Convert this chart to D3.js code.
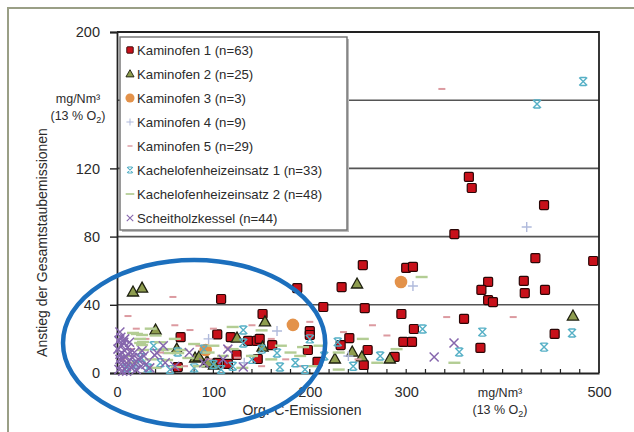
<!DOCTYPE html>
<html>
<head>
<meta charset="utf-8">
<script src="https://cdn.jsdelivr.net/npm/d3@7"></script>
<style>
  body { margin: 0; background: #fff; }
  svg { display: block; font-family: "Liberation Sans", Arial, sans-serif; }
</style>
</head>
<body>
<svg width="634" height="432"></svg>
<script>
// values: [Org.-C, Anstieg Gesamtstaub] in mg/Nm³
const kaminofen1 = [
  [365,115],[368,108.5],[443,98.5],[350,81.5],[434,67.4],[494,65.7],[255,63.3],[300,61.6],[307,62.2],
  [233,50.4],[422,54],[385,53.4],[378,48.7],[423,46.9],[444,48.7],[385,42.8],[390,41.6],[214,38.7],
  [257,38],[295,34.6],[360,31.7],[308,25.8],[297,18.2],[306,18.2],[241,20.5],[260,13.5],[232,16.4],
  [256,4.7],[288,9.4],[454,22.9],[377,14.7],[108,43.4],[187,49.8],[151,34.6],[66,21],[104,22.6],
  [118,21],[136,18.8],[145,18.8],[148,20],[161,16.4],[200,24.6],[200,22.3],[198,13.5],[104,5.9],
  [124,10.6],[115,5.3],[146,8.2],[208,6.5],[63,3.5]
];
const kaminofen2 = [
  [16.6,47.5],[26,49.8],[40,25.2],[153.5,30],[124.5,20.5],[151,15.2],[81,8.8],[85,9.4],[93,6.5],
  [100.6,4.7],[94.4,5.9],[62,14],[249,52.2],[473,33.4],[226,8.2],[244,12.3],[254,9.4],[283,8.2]
];
const kaminofen3 = [[182.5,28.2],[92,13.5],[294.6,53.4]];
const kaminofen4 = [[425,85.6],[307,51],[166,24.6],[132,6],[5,10],[20,4],[48,14],[95,20],[240,10]];
const kaminofen5 = [
  [337,166.6],[342,32.8],[411,32.8],[58,44.6],[11.4,33.4],[75.7,25.2],[30,20],[45,12],[60,28],
  [85,16],[100,26],[115,15],[125,9],[140,28],[160,20],[175,8],[200,30],[215,12],[235,24],[250,8],
  [265,28],[5,8],[15,14],[20,26],[70,4],[95,8],[150,4],[190,4],[280,22]
];
const kachel1 = [
  [483.6,171],[435.7,157.8],[317,25.8],[379,24],[355,12.3],[443,15.2],[472,23.5],[273,10],[229,18.2],
  [131,25.2],[166,11.7],[169,3.5],[131,17.6],[63,12.3],[32,2.9],[20,5],[25,9],[45,6],[55,2],[80,3],
  [100,5],[108,2],[140,8],[185,6],[200,20],[215,10],[245,4],[150,14],[90,14],[10,3],[38,16],[120,4],[195,2]
];
const kachel2 = [
  [316,56.3],[26,22.3],[27,18.2],[52,14],[67,13.5],[74,8.8],[52,7.6],[193,15.2],[190,10],[20.7,22.9],
  [24,20],[26,16.4],[27,13.5],[48,13.5],[55,11.7],[63.5,11.7],[62,3.5],[16.6,23.5],[24,17.6],[35,26],
  [40,22],[45,18],[60,20],[80,17],[95,12],[110,10],[120,14],[140,10],[160,8],[180,12],[210,16],
  [230,12],[255,20],[270,6],[290,14],[350,6],[230,2],[12,10],[15,6],[35,8],[85,4],[130,3],[170,16],
  [205,4],[40,3],[100,16],[150,25],[120,27]
];
const scheitholz = [
  [349.6,17.6],[329,9.4],[3,24],[39,10.6],[131,3.5],[41.5,11.7],[2,2],[4,5],[6,8],[3,11],[8,13],
  [5,16],[2,19],[10,4],[12,7],[9,10],[14,12],[11,15],[6,1],[15,3],[18,6],[20,2],[7,18],[1,14],
  [13,18],[16,9],[22,8],[25,4],[4,21],[8,20],[18,12],[28,10],[30,5],[3,8],[10,1],[26,13],[34,3],
  [50,6],[60,4],[75,12],[90,6],[110,8],[115,14],[48,16]
];

const seriesNames = [
  'Kaminofen 1 (n=63)', 'Kaminofen 2 (n=25)', 'Kaminofen 3 (n=3)', 'Kaminofen 4 (n=9)',
  'Kaminofen 5 (n=29)', 'Kachelofenheizeinsatz 1 (n=33)', 'Kachelofenheizeinsatz 2 (n=48)',
  'Scheitholzkessel (n=44)'
];
const seriesData = [kaminofen1, kaminofen2, kaminofen3, kaminofen4, kaminofen5, kachel1, kachel2, scheitholz];

const xTickValues = [0, 100, 200, 300, 500];
const yTickValues = [0, 40, 80, 120, 200];
const gridValues = [40, 80, 120, 160];
// circled region, in data units: centre x, centre y, radius x, radius y
const highlight = [80, 17.6, 136, 48.7];

const svg = d3.select('svg');
const x = d3.scaleLinear().domain([0, 500]).range([117, 599]);
const y = d3.scaleLinear().domain([0, 200]).range([373, 32]);
const textColor = '#2b2b2b';

// outer frame of the figure
svg.append('rect')
  .attr('x', 8).attr('y', 8).attr('width', 660).attr('height', 460)
  .attr('fill', 'none').attr('stroke', '#9a9f86').attr('stroke-width', 2);

// marker drawers
const markers = [
  g => g.append('rect').attr('x', -4.5).attr('y', -4.5).attr('width', 9).attr('height', 9).attr('rx', 1.2)
        .attr('fill', '#c8101a').attr('stroke', '#2a0606').attr('stroke-width', 1.2),
  g => g.append('path').attr('d', 'M0,-6L5.6,4L-5.6,4Z')
        .attr('fill', '#8e9d4f').attr('stroke', '#1e2010').attr('stroke-width', 1.3),
  g => g.append('circle').attr('r', 6.3).attr('fill', '#e3924a'),
  g => g.append('path').attr('d', 'M-5,0H5M0,-5V5')
        .attr('stroke', '#b0badc').attr('stroke-width', 1.4).attr('fill', 'none'),
  g => g.append('path').attr('d', 'M-3.5,0H3.5')
        .attr('stroke', '#dc9aa0').attr('stroke-width', 2).attr('fill', 'none'),
  g => g.append('path').attr('d', 'M-4,-4L4,4M-4,4L4,-4M-3,-4H3M-3,4H3')
        .attr('stroke', '#56b0c6').attr('stroke-width', 1.4).attr('fill', 'none'),
  g => g.append('path').attr('d', 'M-6,0H6')
        .attr('stroke', '#b3cd94').attr('stroke-width', 2.4).attr('fill', 'none'),
  g => g.append('path').attr('d', 'M-4.5,-4.5L4.5,4.5M-4.5,4.5L4.5,-4.5')
        .attr('stroke', '#8666ad').attr('stroke-width', 1.5).attr('fill', 'none')
];

// gridlines
svg.append('g').selectAll('line').data(gridValues).join('line')
  .attr('x1', x(0)).attr('x2', x(500))
  .attr('y1', d => y(d)).attr('y2', d => y(d))
  .attr('stroke', '#555').attr('stroke-width', 1.6);

// plot border (top, right)
svg.append('path')
  .attr('d', `M${x(0)},${y(200)}H${x(500)}V${y(0)}`)
  .attr('fill', 'none').attr('stroke', '#222').attr('stroke-width', 1.8);

// y axis
const yAxis = d3.axisLeft(y).tickValues(yTickValues).tickSize(7).tickPadding(10);
const yAxisG = svg.append('g').attr('transform', `translate(${x(0)},0)`).call(yAxis);
yAxisG.select('.domain').attr('stroke', '#222').attr('stroke-width', 1.8);
yAxisG.selectAll('.tick line').attr('stroke', '#222').attr('stroke-width', 1.4);
yAxisG.selectAll('.tick text').attr('font-size', 14.5).attr('fill', textColor)
  .attr('font-family', '"Liberation Sans", Arial, sans-serif');

// x axis: labels, then minor inward ticks every 20
const xAxis = d3.axisBottom(x).tickValues(xTickValues).tickSize(0).tickPadding(14);
const xAxisG = svg.append('g').attr('transform', `translate(0,${y(0)})`).call(xAxis);
xAxisG.select('.domain').attr('stroke', '#222').attr('stroke-width', 1.8);
xAxisG.selectAll('.tick text').attr('font-size', 14.5).attr('fill', textColor)
  .attr('font-family', '"Liberation Sans", Arial, sans-serif');
svg.append('g').selectAll('line').data(d3.range(20, 500, 20)).join('line')
  .attr('x1', d => x(d)).attr('x2', d => x(d))
  .attr('y1', y(0)).attr('y2', y(0) - 4)
  .attr('stroke', '#222').attr('stroke-width', 1.2);

// unit labels
const yUnit = svg.append('text').attr('x', 78).attr('y', 103).attr('text-anchor', 'middle')
  .attr('font-size', 12.5).attr('fill', textColor);
yUnit.append('tspan').text('mg/Nm³');
yUnit.append('tspan').attr('x', 78).attr('dy', 17).text('(13 % O');
yUnit.append('tspan').attr('font-size', 9).attr('dy', 3).text('2');
yUnit.append('tspan').attr('dy', -3).text(')');

const xUnit = svg.append('text').attr('x', 500).attr('y', 397).attr('text-anchor', 'middle')
  .attr('font-size', 12.5).attr('fill', textColor);
xUnit.append('tspan').text('mg/Nm³');
xUnit.append('tspan').attr('x', 500).attr('dy', 17).text('(13 % O');
xUnit.append('tspan').attr('font-size', 9).attr('dy', 3).text('2');
xUnit.append('tspan').attr('dy', -3).text(')');

// axis titles
svg.append('text')
  .attr('transform', `translate(47,${(y(0) + y(200)) / 2 + 40}) rotate(-90)`)
  .attr('text-anchor', 'middle').attr('font-size', 14).attr('fill', textColor)
  .text('Anstieg der Gesamtstaubemissionen');
svg.append('text')
  .attr('x', 302).attr('y', 415).attr('text-anchor', 'middle')
  .attr('font-size', 14).attr('fill', textColor)
  .text('Org.-C-Emissionen');

// data points, series in order so the last one lies on top
seriesData.forEach((data, i) => {
  svg.append('g').attr('class', 'series-' + i)
    .selectAll('g').data(data).join('g')
      .attr('transform', d => `translate(${x(d[0])},${y(d[1])})`)
      .each(function() { markers[i](d3.select(this)); });
});

// legend
const legend = svg.append('g');
legend.append('rect').attr('x', 122).attr('y', 39).attr('width', 227).attr('height', 193)
  .attr('fill', '#bbb');
legend.append('rect').attr('x', 120).attr('y', 37).attr('width', 227).attr('height', 193)
  .attr('fill', '#fff').attr('stroke', '#6f6f6f').attr('stroke-width', 1.4);
const legendItem = legend.selectAll('.legend').data(seriesNames).join('g')
  .attr('class', 'legend')
  .attr('transform', (d, i) => `translate(130,${50 + i * 24})`);
legendItem.append('g').attr('transform', 'scale(0.72)')
  .each(function(d, i) { markers[i](d3.select(this)); });
legendItem.append('text').attr('x', 7).attr('dy', '0.35em')
  .attr('font-size', 13.2).attr('fill', textColor).text(d => d);

// blue circled region
svg.append('ellipse')
  .attr('cx', x(highlight[0])).attr('cy', y(highlight[1]))
  .attr('rx', x(highlight[2]) - x(0)).attr('ry', y(0) - y(highlight[3]))
  .attr('fill', 'none').attr('stroke', '#1c6fbd').attr('stroke-width', 4.5);
</script>
</body>
</html>
